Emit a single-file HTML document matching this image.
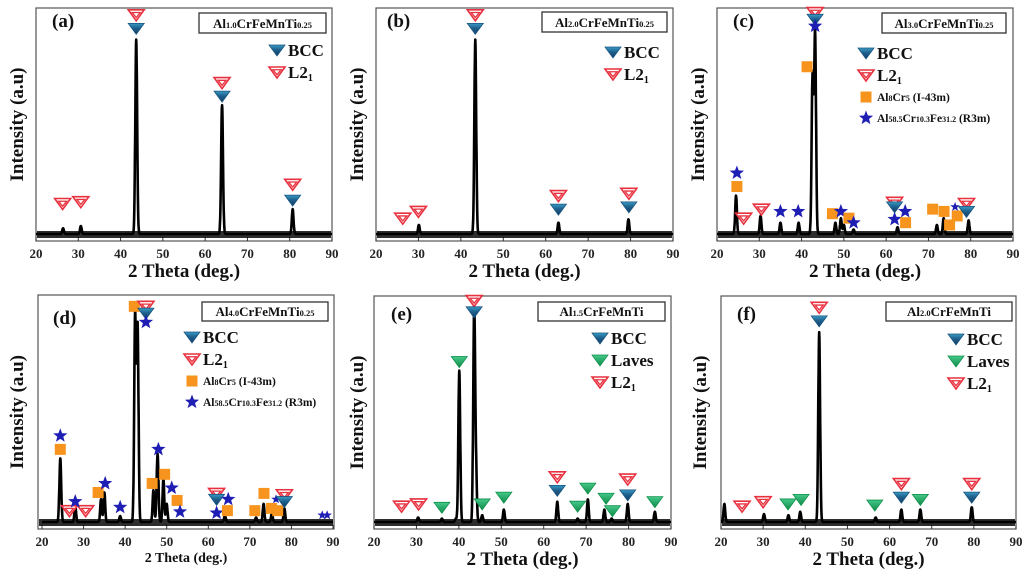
<!DOCTYPE html>
<html><head><meta charset="utf-8"><style>
html,body{margin:0;padding:0;background:#fff;}
svg{display:block;font-family:"Liberation Serif",serif;font-weight:bold;}
</style></head><body>
<svg id="fig" width="1024" height="574" viewBox="0 0 1024 574" xmlns="http://www.w3.org/2000/svg">
<defs>
<linearGradient id="gBcc" x1="0" y1="0" x2="0" y2="1"><stop offset="0" stop-color="#3a9cc4"/><stop offset="0.45" stop-color="#1d5f8c"/><stop offset="1" stop-color="#143f66"/></linearGradient>
<linearGradient id="gLav" x1="0" y1="0" x2="0" y2="1"><stop offset="0" stop-color="#45c98a"/><stop offset="1" stop-color="#0f8a48"/></linearGradient>
</defs>
</svg>
<script>
// ---------- data: peak angles (deg) and intensities (% of frame height) ----------
const aPeakPos=[26.4,30.6,43.7,64.0,80.7];
const aPeakInt=[2.5,3.5,86,57,11];
const aMarkType=['L','B','L','B','L','B','L','L'];
const aMarkPos=[43.7,43.7,64.0,64.0,80.7,80.7,26.3,30.6];
const aMarkInt=[97,91,67,61,22,15,13.5,14.3];

const bPeakPos=[30.1,43.4,63.0,79.5];
const bPeakInt=[4,86,5,6.5];
const bMarkType=['L','B','L','B','L','B','L','L'];
const bMarkPos=[43.4,43.4,63.0,63.0,79.6,79.6,26.3,30.0];
const bMarkInt=[97,91,17,11,18,12,7,10];

const cPeakPos=[24.5,30.3,35.0,39.3,42.6,43.2,48.0,49.3,50.0,52.3,62.7,72.0,73.6,79.5];
const cPeakInt=[17,8,5,5,70,89,5,7,4,2,3,4,7,6];
const cMarkType=['L','B','S','Q','S','Q','L','L','S','S','Q','S','Q','S','L','B','S','S','Q','Q','Q','Q','Q','s','L','B'];
const cMarkPos=[43.2,43.2,43.2,41.3,24.7,24.7,26.3,30.5,35.0,39.2,47.3,49.3,51.2,52.3,62.0,62.0,62.0,64.5,64.6,71.0,73.7,75.0,76.8,76.3,79.0,79.0];
const cMarkInt=[98,95,92,74,27,21,7,11,10,10,9,10,7,5,14,12,6.5,10,5,11,10,4,8,12,13.5,10];

const dPeakPos=[24.4,28.0,34.2,35.0,38.8,42.4,43.0,46.8,47.8,49.2,50.0,64.0,71.5,73.3,75.3,78.3];
const dPeakInt=[28,7,10,13,2.6,91,86,14,30,19,8,3,2,8,4,6];
const dMarkType=['Q','L','B','S','S','Q','L','L','S','Q','S','S','Q','S','Q','S','Q','S','L','B','S','S','Q','Q','Q','Q','Q','s','L','B','s','s'];
const dMarkPos=[42.2,45.0,45.0,45.0,24.4,24.4,26.6,30.5,28.0,33.5,35.2,38.8,46.5,48.0,49.5,51.2,52.5,53.2,62.0,62.0,62.0,64.8,64.6,71.2,73.4,75.2,76.7,76.3,78.3,78.3,87.4,88.6];
const dMarkInt=[95,95,92,88,38,32,5,5,9,13,17,6.5,17,32,21,15,9.5,4.5,12.6,10,4,10,5,5,12.6,6,5,10,12,9,3,3];

const ePeakPos=[30.4,36.0,39.3,40.1,43.6,44.0,45.5,50.6,63.2,68.0,70.4,74.3,76.0,79.8,86.2];
const ePeakInt=[2,1.5,1.5,67,90,23,3,5.5,9,1.5,10,5.5,1.5,8,4.5];
const eMarkType=['L','B','V','L','L','V','V','V','L','B','V','V','V','V','L','B','V'];
const eMarkPos=[43.6,43.6,40.1,26.5,30.5,36.0,45.5,50.6,63.2,63.2,68.0,70.4,74.7,76.2,79.8,79.8,86.2];
const eMarkInt=[98,93,71,7,8,6.5,8,11,20,14,7,15,10.5,5,19,12,9];

const fPeakPos=[20.8,30.2,36.0,38.8,43.3,56.7,62.8,67.3,79.5];
const fPeakInt=[8,3.5,3,4.5,84,2,5.5,5.5,6.5];
const fMarkType=['L','B','L','L','V','V','V','L','B','V','L','B'];
const fMarkPos=[43.3,43.3,25.0,30.0,35.9,39.0,56.5,62.8,62.8,67.3,79.5,79.5];
const fMarkInt=[95,89,7,9,8,10,7.5,17,11,10,17,11];

const xTicks=[20,30,40,50,60,70,80,90];

// ---------- layout ----------
const NS='http://www.w3.org/2000/svg';
const svg=document.getElementById('fig');
function mk(tag,attrs,parent){const e=document.createElementNS(NS,tag);for(const k in attrs)e.setAttribute(k,attrs[k]);(parent||svg).appendChild(e);return e;}

const panels=[
 {id:'a',L:36,R:332,T:8,B:241,x0:36,x1:332,pp:aPeakPos,pi:aPeakInt,mt:aMarkType,mp:aMarkPos,mi:aMarkInt,lab:[52,27],box:[199,13,127,20],comp:['Al','1.0','CrFeMnTi','0.25'],leg:[277,50,['B','L']],yt:17,small:false},
 {id:'b',L:376,R:673,T:8,B:241,x0:376,x1:673,pp:bPeakPos,pi:bPeakInt,mt:bMarkType,mp:bMarkPos,mi:bMarkInt,lab:[387,27],box:[542,12,125,20],comp:['Al','2.0','CrFeMnTi','0.25'],leg:[613,52,['B','L']],yt:357,small:false},
 {id:'c',L:717,R:1013,T:8,B:241,x0:717,x1:1013,pp:cPeakPos,pi:cPeakInt,mt:cMarkType,mp:cMarkPos,mi:cMarkInt,lab:[733,27],box:[882,13,124,20],comp:['Al','3.0','CrFeMnTi','0.25'],leg:[866,53,['B','L','Q','S']],yt:698,small:false},
 {id:'d',L:38,R:334,T:295,B:529,x0:42,x1:333,pp:dPeakPos,pi:dPeakInt,mt:dMarkType,mp:dMarkPos,mi:dMarkInt,lab:[53,324],box:[202,302,126,19],comp:['Al','4.0','CrFeMnTi','0.25'],leg:[192,337,['B','L','Q','S']],yt:17,small:true},
 {id:'e',L:374,R:671,T:296,B:529,x0:374,x1:671,pp:ePeakPos,pi:ePeakInt,mt:eMarkType,mp:eMarkPos,mi:eMarkInt,lab:[391,320],box:[538,302,127,19],comp:['Al','1.5','CrFeMnTi',''],leg:[600,338,['B','V','L']],yt:357,small:false},
 {id:'f',L:721,R:1016,T:296,B:529,x0:721,x1:1016,pp:fPeakPos,pi:fPeakInt,mt:fMarkType,mp:fMarkPos,mi:fMarkInt,lab:[737,320],box:[886,302,126,19],comp:['Al','2.0','CrFeMnTi',''],leg:[956,339,['B','V','L']],yt:700,small:false}
];

function tri(g,type,cx,cy,sc){
  sc=sc||1;const w=8*sc,h=5*sc,d=6*sc;
  const pts=`${cx-w},${cy-h} ${cx+w},${cy-h} ${cx},${cy+d}`;
  if(type==='L'){
    mk('polygon',{points:pts,fill:'#fff',stroke:'#e8303e','stroke-width':1.6},g);
    mk('polygon',{points:`${cx-w*0.5},${cy-h*0.45} ${cx+w*0.5},${cy-h*0.45} ${cx},${cy+d*0.45}`,fill:'#fff',stroke:'#e8303e','stroke-width':1.3},g);
  } else {
    mk('polygon',{points:pts,fill:type==='B'?'url(#gBcc)':'url(#gLav)',stroke:type==='B'?'#1a5580':'#10924c','stroke-width':0.8},g);
  }
}
function star(g,cx,cy,r){
  let p=[];for(let i=0;i<10;i++){const a=-Math.PI/2+i*Math.PI/5;const rr=i%2?r*0.42:r;p.push((cx+rr*Math.cos(a)).toFixed(1)+','+(cy+rr*Math.sin(a)).toFixed(1));}
  mk('polygon',{points:p.join(' '),fill:'#1e1eb4'},g);
}
function marker(g,type,cx,cy){
  if(type==='B'||type==='L'||type==='V')tri(g,type,cx,cy);
  else if(type==='Q')mk('rect',{x:cx-5.5,y:cy-5.5,width:11,height:11,fill:'#f7941d'},g);
  else if(type==='S')star(g,cx,cy,7.5);
  else if(type==='s')star(g,cx,cy,5);
}

panels.forEach(p=>{
  const g=mk('g',{});
  
  
  const xs=d=>p.x0+(d-20)/70*(p.x1-p.x0);
  const base=p.B-7, span=base-p.T;
  const ys=I=>base-I/100*span;
  const fr=mk('rect',{x:p.L,y:p.T,width:p.R-p.L,height:p.B-p.T,fill:'none',stroke:'#555','stroke-width':1.2},g);
  
  
  xTicks.forEach(t=>{
    mk('line',{x1:xs(t),x2:xs(t),y1:p.B,y2:p.B-4,stroke:'#333','stroke-width':1},g);
    const tl=mk('text',{x:xs(t),y:p.B+17,'text-anchor':'middle','font-size':13,fill:'#222'},g);
    tl.textContent=t;
    
    
  });
  const xt=mk('text',{x:(p.L+p.R)/2,y:p.small?p.B+33:p.B+36,'text-anchor':'middle','font-size':p.small?14:19,fill:'#111'},g);
  xt.textContent='2 Theta (deg.)';
  
  
  const yt=mk('text',{x:0,y:0,'text-anchor':'middle','font-size':19,fill:'#111',transform:`translate(${p.yt+6},${(p.T+p.B)/2}) rotate(-90)`},g);
  yt.textContent='Intensity (a.u)';
  
  
  // noisy baseline band
  const band=mk('rect',{x:p.L+1,y:base-3,width:p.R-p.L-2,height:7,fill:'#000','fill-opacity':0.82},g);
  
  
  let pts=[];
  for(let d=20;d<=90.001;d+=0.05){
    let I=0;
    for(let i=0;i<p.pp.length;i++){const s=p.pi[i]>20?0.22:0.2;I+=p.pi[i]*Math.exp(-Math.pow(d-p.pp[i],2)/(2*s*s));}
    pts.push(xs(d).toFixed(1)+','+ys(I).toFixed(1));
  }
  const pl=mk('polyline',{points:pts.join(' '),fill:'none',stroke:'#000','stroke-width':2.6,'stroke-linejoin':'round'},g);
  
  
  for(let i=0;i<p.mt.length;i++){
    const mg=mk('g',{},g);
    
    
    marker(mg,p.mt[i],xs(p.mp[i]),ys(p.mi[i]));
  }
  const lb=mk('text',{x:p.lab[0],y:p.lab[1],'font-size':19,fill:'#111'},g);
  lb.textContent='('+p.id+')';
  
  
  const bx=mk('rect',{x:p.box[0],y:p.box[1],width:p.box[2],height:p.box[3],fill:'#fff',stroke:'#333','stroke-width':1.3},g);
  
  
  const ct=mk('text',{x:p.box[0]+p.box[2]/2,y:p.box[1]+p.box[3]-5,'text-anchor':'middle','font-size':13,fill:'#111'},g);
  
  
  ct.innerHTML=`${p.comp[0]}<tspan font-size="8.5">${p.comp[1]}</tspan>${p.comp[2]}<tspan font-size="8.5">${p.comp[3]}</tspan>`;
  const lg=mk('g',{},g);
  
  
  const names={B:'BCC',L:'L2<tspan font-size="10" dy="3">1</tspan>',V:'Laves',Q:'Al<tspan font-size="8">8</tspan>Cr<tspan font-size="8">5</tspan> (I-43m)',S:'Al<tspan font-size="8">58.5</tspan>Cr<tspan font-size="8">10.3</tspan>Fe<tspan font-size="8">31.2</tspan> (R3m)'};
  let ly=p.leg[1];
  p.leg[2].forEach(t=>{
    marker(lg,t,p.leg[0],ly);
    const big=(t==='B'||t==='L'||t==='V');
    const tx=mk('text',{x:p.leg[0]+11,y:ly+(big?6:4),'font-size':big?17:11.5,fill:'#111'},lg);
    tx.innerHTML=names[t];
    
    
    ly+= big?22:21;
  });
});
</script>
</body></html>
